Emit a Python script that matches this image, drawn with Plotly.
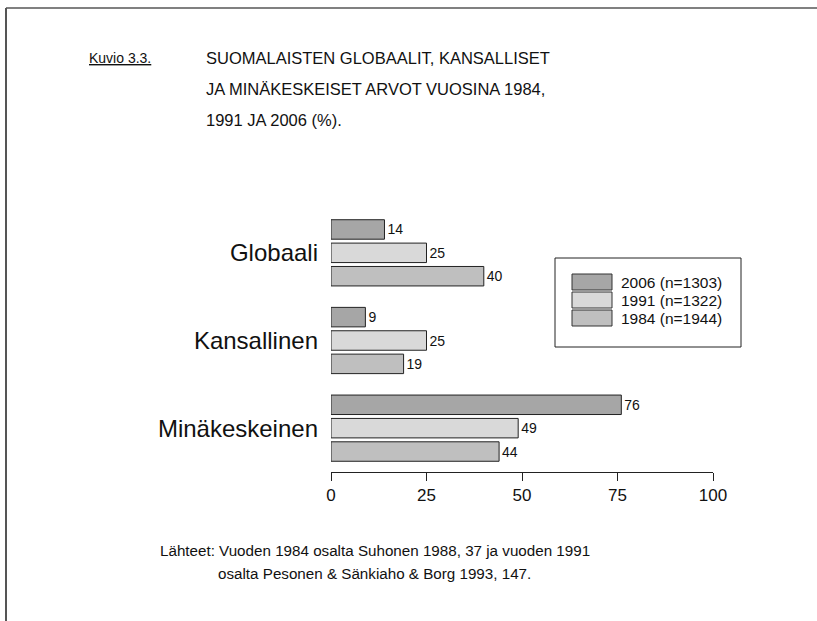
import plotly.graph_objects as go

# ---- data ----
categories = ["Globaali", "Kansallinen", "Minäkeskeinen"]
series_names = ["2006 (n=1303)", "1991 (n=1322)", "1984 (n=1944)"]
values_2006 = [14, 9, 76]
values_1991 = [25, 25, 49]
values_1984 = [40, 19, 44]
tick_values = [0, 25, 50, 75, 100]
tick_labels = ["0", "25", "50", "75", "100"]
title_label = "Kuvio 3.3."
title_text = ["SUOMALAISTEN GLOBAALIT, KANSALLISET",
              "JA MINÄKESKEISET ARVOT VUOSINA 1984,",
              "1991 JA 2006 (%)."]
source_text = ["Lähteet: Vuoden 1984 osalta Suhonen 1988, 37 ja vuoden 1991",
               "osalta Pesonen & Sänkiaho & Borg 1993, 147."]

colors = ["#a6a6a6", "#d9d9d9", "#bfbfbf"]
series_values = [values_2006, values_1991, values_1984]

W, H = 817, 621
L, R, T, B = 331, 713, 209, 472  # plot area in pixels

def px(x):
    return (x - L) / (R - L)

def py(y):
    return (B - y) / (B - T)

FONT = "Liberation Sans, Arial, sans-serif"

fig = go.Figure()
for name, vals, col in zip(series_names, series_values, colors):
    fig.add_trace(go.Bar(
        y=categories, x=vals, name=name, orientation="h",
        marker=dict(color=col, line=dict(color="#222222", width=1)),
        text=[str(v) for v in vals], textposition="outside",
        textfont=dict(family=FONT, size=14, color="#111111"),
        cliponaxis=False, constraintext="none", showlegend=False,
        hoverinfo="skip",
    ))

shapes = []
annotations = []

# page frame lines
shapes.append(dict(type="line", xref="paper", yref="paper",
                   x0=px(6), x1=px(830), y0=py(8), y1=py(8),
                   line=dict(color="#808080", width=2)))
shapes.append(dict(type="line", xref="paper", yref="paper",
                   x0=px(6), x1=px(6), y0=py(8), y1=py(630),
                   line=dict(color="#555555", width=2)))

# legend (manual)
shapes.append(dict(type="rect", xref="paper", yref="paper",
                   x0=px(555), x1=px(741), y0=py(258), y1=py(347),
                   line=dict(color="#222222", width=1), fillcolor="white", layer="below"))
for i, (name, col) in enumerate(zip(series_names, colors)):
    yc = 282 + i * 18
    shapes.append(dict(type="rect", xref="paper", yref="paper",
                       x0=px(572), x1=px(612), y0=py(yc - 8), y1=py(yc + 8),
                       line=dict(color="#333333", width=1), fillcolor=col))
    annotations.append(dict(xref="paper", yref="paper", x=px(619), y=py(yc),
                            text=name, showarrow=False, xanchor="left", yanchor="middle",
                            font=dict(family=FONT, size=15.5, color="#111111")))

# titles
annotations.append(dict(xref="paper", yref="paper", x=px(87), y=py(58),
                        text="<u>" + title_label + "</u>", showarrow=False,
                        xanchor="left", yanchor="middle",
                        font=dict(family=FONT, size=14, color="#111111")))
for i, line in enumerate(title_text):
    annotations.append(dict(xref="paper", yref="paper", x=px(204), y=py(58 + 31 * i),
                            text=line, showarrow=False,
                            xanchor="left", yanchor="middle", align="left",
                            font=dict(family=FONT, size=16.5, color="#111111")))

# source
annotations.append(dict(xref="paper", yref="paper", x=px(375), y=py(550),
                        text=source_text[0], showarrow=False,
                        xanchor="center", yanchor="middle",
                        font=dict(family=FONT, size=15.2, color="#111111")))
annotations.append(dict(xref="paper", yref="paper", x=px(374), y=py(573),
                        text=source_text[1], showarrow=False,
                        xanchor="center", yanchor="middle",
                        font=dict(family=FONT, size=15.2, color="#111111")))

fig.update_layout(
    width=W, height=H, autosize=False,
    margin=dict(l=L, r=W - R, t=T, b=H - B, pad=0),
    paper_bgcolor="white", plot_bgcolor="white",
    barmode="group", bargap=0.2, bargroupgap=0.167,
    showlegend=False,
    shapes=shapes, annotations=annotations,
    font=dict(family=FONT, color="#111111"),
    xaxis=dict(range=[0, 100], tickvals=tick_values, ticktext=tick_labels,
               ticks="outside", ticklen=8, tickwidth=1, tickcolor="#222222",
               showline=True, linecolor="#222222", linewidth=1,
               showgrid=False, zeroline=False,
               tickfont=dict(family=FONT, size=17, color="#111111")),
    yaxis=dict(range=[2.5, -0.5], type="category", showgrid=False, zeroline=False,
               showline=False, ticks="", ticklabelstandoff=12,
               tickfont=dict(family=FONT, size=24, color="#111111")),
)

fig.write_html("out.html", config={"displayModeBar": False},
               post_script="document.body.style.margin='0';document.body.style.overflow='hidden';")
